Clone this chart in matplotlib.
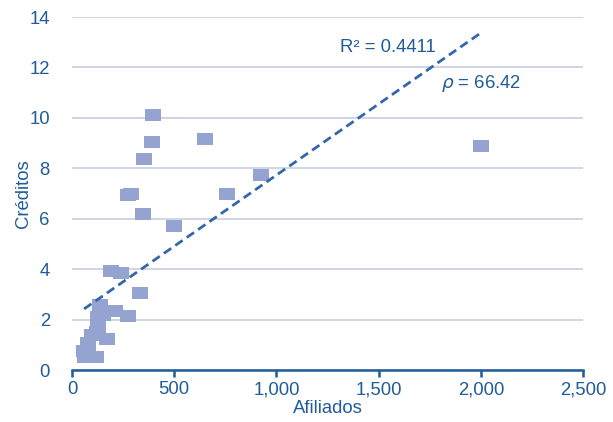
import matplotlib
matplotlib.use("Agg")
import matplotlib.pyplot as plt
import numpy as np

plt.rcParams['font.family'] = ['Liberation Sans', 'DejaVu Sans']

# Data
afiliados = [2000, 395, 393, 350, 649, 275, 288, 345, 501, 760, 923,
             189, 238, 332, 273, 210, 137, 127, 150, 127, 171, 78,
             59, 117, 63, 100, 80, 120]
creditos = [8.9, 10.1, 9.05, 8.35, 9.15, 6.95, 7.0, 6.2, 5.7, 7.0, 7.75,
            3.93, 3.84, 3.04, 2.14, 2.34, 2.58, 2.1, 2.2, 1.67, 1.23, 1.07,
            0.75, 0.52, 0.52, 1.4, 0.9, 1.5]

# trend line
trend_slope = 0.00564
trend_intercept = 2.09
r2_text = "R² = 0.4411"
rho_text = r"$\rho$ = 66.42"

xticks = [0, 500, 1000, 1500, 2000, 2500]
yticks = [0, 2, 4, 6, 8, 10, 12, 14]

blue_text = "#1F5C99"
marker_col = "#94A3CF"
grid_col = "#C9CDE2"
trend_col = "#3366AA"
fs = 13.3

fig = plt.figure(figsize=(6.13, 4.22), dpi=100)
ax = fig.add_axes([0.1175, 0.1232, 0.8336, 0.8365])

# rectangular markers, a bit wider than tall
rect = [(-1, -0.78), (1, -0.78), (1, 0.78), (-1, 0.78), (-1, -0.78)]
ax.scatter(afiliados, creditos, marker=rect, s=132, color=marker_col,
           linewidths=0, zorder=3)

x_fit = np.array([min(afiliados), max(afiliados)])
ax.plot(x_fit, trend_intercept + trend_slope * x_fit, color=trend_col,
        linestyle=(0, (3.2, 1.8)), linewidth=2, zorder=4)

ax.text(1313, 12.6, r2_text, color=blue_text, fontsize=fs, va='baseline')
ax.text(1805, 11.2, rho_text, color=blue_text, fontsize=fs, va='baseline')

ax.set_xlim(0, 2500)
ax.set_ylim(0, 14)
ax.set_xticks(xticks)
ax.set_xticklabels([f"{v:,}" for v in xticks])
ax.set_yticks(yticks)
ax.grid(axis='y', color=grid_col, linewidth=1.2)
ax.set_axisbelow(True)

for side in ['left', 'right', 'top']:
    ax.spines[side].set_visible(False)
ax.spines['bottom'].set_color(blue_text)
ax.spines['bottom'].set_linewidth(1.8)
ax.spines['bottom'].set_zorder(5)
ax.tick_params(axis='x', colors=blue_text, labelsize=fs, length=5,
               width=1.8, direction='out', pad=3)
ax.tick_params(axis='y', colors=blue_text, labelsize=fs, length=0, pad=16)

ax.set_xlabel("Afiliados", color=blue_text, fontsize=fs, labelpad=1)
ax.set_ylabel("Créditos", color=blue_text, fontsize=fs, labelpad=-2)

fig.savefig("out.png", dpi=100)
